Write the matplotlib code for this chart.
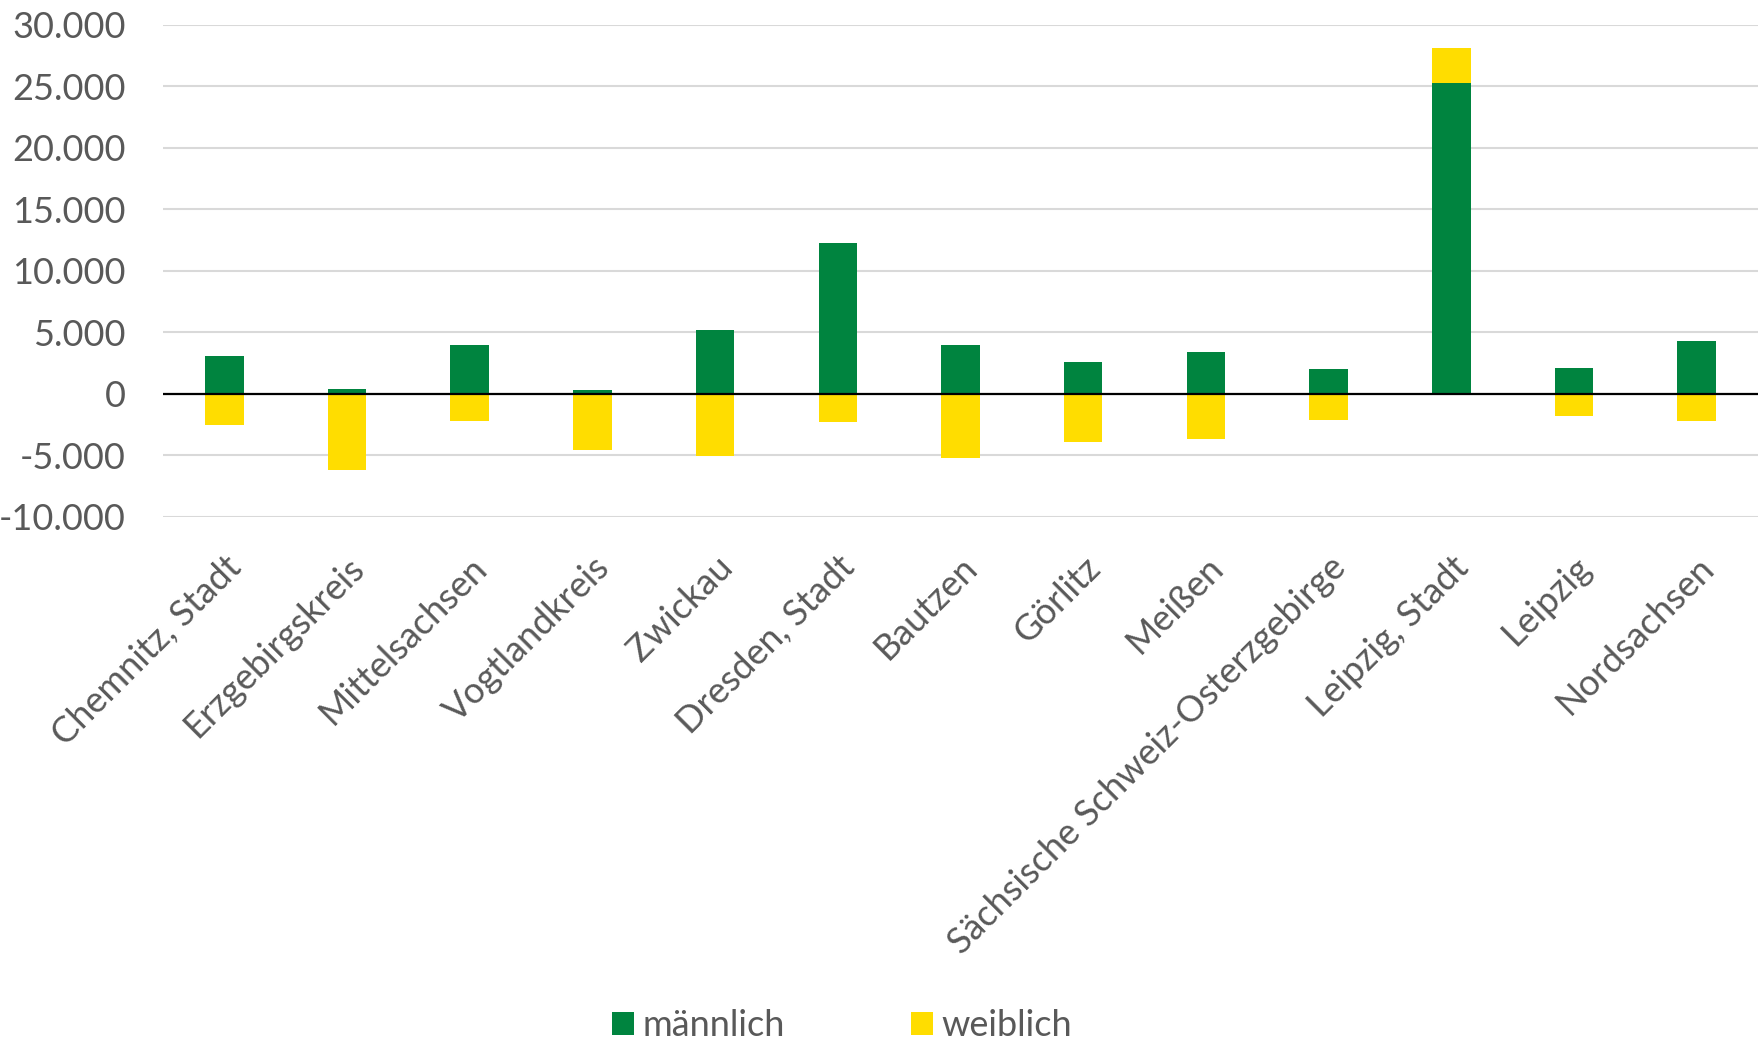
import matplotlib
matplotlib.use("Agg")
import matplotlib.pyplot as plt
import numpy as np

categories = ["Chemnitz, Stadt", "Erzgebirgskreis", "Mittelsachsen", "Vogtlandkreis",
              "Zwickau", "Dresden, Stadt", "Bautzen", "Görlitz", "Meißen",
              "Sächsische Schweiz-Osterzgebirge", "Leipzig, Stadt", "Leipzig", "Nordsachsen"]
maennlich = [3080, 410, 3950, 290, 5160, 12300, 3950, 2580, 3390, 2030, 25300, 2120, 4290]
weiblich = [-2520, -6210, -2230, -4580, -5050, -2290, -5220, -3920, -3660, -2150, 2840, -1800, -2230]
yticks = [-10000, -5000, 0, 5000, 10000, 15000, 20000, 25000, 30000]
ytick_labels = ["-10.000", "-5.000", "0", "5.000", "10.000", "15.000", "20.000", "25.000", "30.000"]

GREEN = "#00843F"
YELLOW = "#FFDD00"
TEXT = "#595959"
FONT = ["Lato", "DejaVu Sans"]

plt.rcParams["font.family"] = FONT

fig = plt.figure(figsize=(17.59, 10.64), dpi=100)
ax = fig.add_axes([163 / 1759, 1 - 517 / 1064, (1758 - 163) / 1759, (517 - 24.7) / 1064])

x = np.arange(len(categories))
m = np.array(maennlich, dtype=float)
w = np.array(weiblich, dtype=float)
w_bottom = np.where(w >= 0, np.maximum(m, 0), np.minimum(m, 0))

width = 0.314
ax.bar(x, m, width, color=GREEN, label="männlich", zorder=3)
ax.bar(x, w, width, bottom=w_bottom, color=YELLOW, label="weiblich", zorder=3)

ax.set_xlim(-0.5, len(categories) - 0.5)
ax.set_ylim(-10000, 30000)
ax.set_yticks(yticks)
ax.set_yticklabels(ytick_labels)
ax.yaxis.grid(True, color="#D9D9D9", linewidth=1.5, zorder=0)
ax.axhline(0, color="black", linewidth=1.6, zorder=4)
ax.set_axisbelow(True)

for s in ax.spines.values():
    s.set_visible(False)
ax.tick_params(axis="both", length=0, labelsize=26, labelcolor=TEXT)
ax.tick_params(axis="y", pad=27)
ax.set_xticks(x)
ax.set_xticklabels(categories, rotation=45, ha="right", va="top", rotation_mode="anchor")
ax.tick_params(axis="x", pad=24)

handles, labels = ax.get_legend_handles_labels()
leg = fig.legend(handles, labels, loc="center", bbox_to_anchor=(842 / 1759, 1 - 1026 / 1064),
                 ncol=2, frameon=False, fontsize=26, handlelength=0.62, handleheight=0.62,
                 handletextpad=0.22, columnspacing=3.5, labelcolor=TEXT)

fig.savefig("out.png", dpi=100)
